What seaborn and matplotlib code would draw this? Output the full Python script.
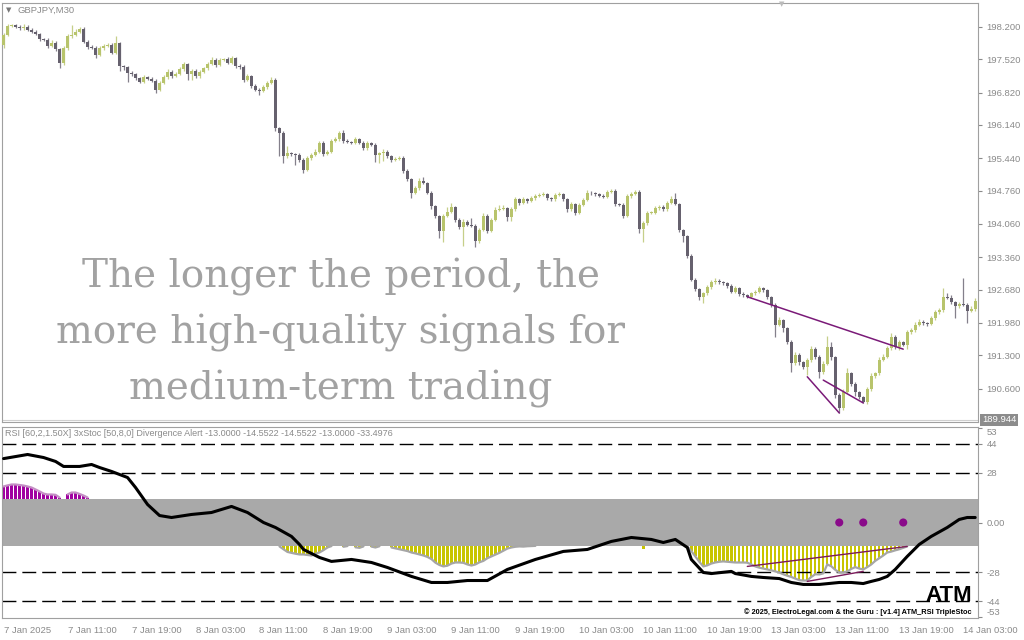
import numpy as np
import pandas as pd
import seaborn as sns
import matplotlib
matplotlib.use("Agg")
import matplotlib.pyplot as plt
import matplotlib.transforms as mtransforms

sns.set_style("white")
plt.rcParams['font.family'] = ['Liberation Sans', 'DejaVu Sans']

# GBPJPY M30 candles (open of each bar = previous close)
first_open = 197.82
closes = [
    198.03, 198.22, 198.23, 198.20, 198.17, 198.20, 198.14, 198.10, 198.05, 197.94,
    197.93, 197.80, 197.87, 197.73, 197.44, 197.75, 198.00, 198.03, 198.10, 198.15,
    197.89, 197.77, 197.76, 197.61, 197.75, 197.80, 197.82, 197.66, 197.86, 197.37,
    197.35, 197.24, 197.21, 197.12, 197.05, 197.14, 197.11, 197.07, 196.88, 197.03,
    197.14, 197.26, 197.17, 197.21, 197.31, 197.42, 197.20, 197.28, 197.16, 197.26,
    197.33, 197.42, 197.51, 197.40, 197.51, 197.52, 197.45, 197.54, 197.38, 197.35,
    197.09, 197.16, 196.96, 196.88, 196.86, 196.93, 197.02, 197.09, 196.07, 195.98,
    195.48, 195.55, 195.53, 195.51, 195.41, 195.20, 195.44, 195.51, 195.58, 195.77,
    195.53, 195.58, 195.81, 195.84, 195.98, 195.81, 195.78, 195.77, 195.84, 195.77,
    195.65, 195.76, 195.72, 195.50, 195.54, 195.58, 195.48, 195.41, 195.43, 195.45,
    195.18, 195.00, 194.72, 194.81, 194.97, 194.92, 194.72, 194.43, 194.22, 193.92,
    194.23, 194.32, 194.41, 194.15, 193.99, 194.11, 194.04, 194.02, 193.71, 193.94,
    194.23, 193.92, 194.15, 194.36, 194.38, 194.39, 194.20, 194.37, 194.58, 194.50,
    194.58, 194.55, 194.60, 194.65, 194.67, 194.69, 194.60, 194.58, 194.67, 194.69,
    194.58, 194.37, 194.48, 194.30, 194.46, 194.57, 194.72, 194.70, 194.68, 194.65,
    194.63, 194.74, 194.76, 194.48, 194.46, 194.23, 194.64, 194.69, 194.74, 193.95,
    194.08, 194.29, 194.30, 194.39, 194.42, 194.37, 194.50, 194.58, 194.48, 193.93,
    193.80, 193.39, 192.89, 192.69, 192.52, 192.60, 192.73, 192.83, 192.87, 192.83,
    192.81, 192.76, 192.64, 192.71, 192.59, 192.56, 192.53, 192.60, 192.64, 192.71,
    192.67, 192.52, 192.36, 191.94, 192.04, 191.87, 191.59, 191.13, 191.31, 191.15,
    191.06, 191.20, 191.43, 191.27, 190.94, 191.12, 191.47, 191.26, 190.47, 190.19,
    190.54, 190.92, 190.70, 190.52, 190.42, 190.33, 190.59, 190.87, 190.92, 191.21,
    191.27, 191.45, 191.69, 191.47, 191.57, 191.52, 191.78, 191.83, 191.94, 192.01,
    191.97, 191.96, 192.08, 192.20, 192.25, 192.52, 192.51, 192.41, 192.34, 192.38,
    192.36, 192.24, 192.27, 192.45]

# wick lengths in hundredths of a yen
wick_up = [
    3, 4, 3, 3, 4, 6, 3, 3, 4, 3,   3, 3, 5, 4, 3, 4, 5, 21, 6, 5,
    4, 3, 4, 3, 4, 4, 3, 4, 15, 3,  3, 3, 3, 3, 3, 4, 3, 3, 3, 4,
    4, 5, 3, 4, 5, 4, 3, 4, 3, 4,   3, 4, 5, 3, 4, 3, 4, 4, 3, 3,
    4, 4, 3, 3, 3, 4, 4, 5, 3, 3,   3, 14, 3, 3, 3, 3, 4, 4, 5, 4,
    3, 4, 4, 5, 4, 6, 3, 3, 4, 3,   3, 4, 3, 3, 4, 5, 3, 3, 4, 3,
    3, 3, 3, 4, 5, 8, 3, 3, 3, 3,   4, 9, 9, 3, 3, 5, 3, 14, 3, 4,
    5, 3, 4, 6, 8, 7, 3, 4, 5, 3,   4, 3, 4, 4, 3, 4, 3, 3, 5, 4,
    3, 3, 4, 3, 4, 4, 5, 3, 3, 3,   3, 4, 4, 3, 3, 3, 5, 4, 4, 3,
    4, 4, 3, 5, 4, 3, 5, 6, 13, 3,  3, 3, 3, 3, 3, 4, 4, 5, 5, 3,
    4, 3, 3, 4, 3, 3, 3, 4, 4, 5,   3, 3, 3, 3, 6, 3, 3, 3, 5, 4,
    3, 4, 7, 4, 3, 6, 23, 10, 3, 3, 5, 11, 4, 3, 3, 3, 5, 5, 4, 6,
    5, 5, 7, 4, 5, 3, 6, 5, 5, 5,   4, 3, 5, 6, 5, 19, 8, 6, 4, 5,
    54, 4, 6, 5]
wick_dn = [
    7, 3, 3, 3, 3, 3, 3, 3, 3, 4,   3, 4, 3, 4, 10, 4, 3, 3, 3, 3,
    3, 4, 3, 6, 3, 3, 3, 4, 3, 10,  5, 20, 4, 3, 4, 3, 3, 3, 7, 3,
    3, 3, 4, 3, 3, 3, 12, 12, 4, 3, 3, 3, 3, 4, 3, 3, 3, 3, 4, 3,
    4, 3, 5, 3, 9, 3, 3, 3, 6, 50,  14, 3, 4, 21, 4, 7, 3, 3, 3, 3,
    4, 3, 3, 3, 3, 4, 3, 3, 3, 4,   3, 3, 3, 13, 16, 16, 3, 4, 3, 3,
    6, 4, 12, 3, 3, 3, 4, 5, 4, 16, 23, 3, 3, 5, 4, 39, 3, 3, 13, 6,
    3, 5, 3, 3, 3, 3, 8, 8, 3, 4,   3, 4, 3, 3, 3, 3, 4, 3, 3, 3,
    3, 5, 4, 6, 3, 3, 3, 3, 4, 3,   3, 3, 3, 4, 3, 5, 3, 3, 3, 8,
    26, 4, 3, 3, 3, 3, 3, 3, 3, 4,  11, 4, 3, 4, 5, 13, 3, 3, 3, 3,
    3, 4, 4, 3, 4, 3, 3, 3, 3, 3,   3, 4, 5, 25, 3, 8, 5, 17, 3, 5,
    4, 18, 3, 5, 12, 4, 3, 5, 6, 11, 4, 3, 4, 8, 4, 4, 6, 3, 4, 3,
    3, 3, 3, 4, 5, 3, 9, 3, 3, 3,   3, 4, 3, 3, 3, 3, 3, 4, 26, 4,
    3, 27, 4, 3]

# histogram of the TripleStoc oscillator, one value per bar
osc = [
    20.2, 20.8, 21.3, 21.3, 21.0, 20.7, 20.2, 19.6, 18.5, 17.4, 16.2, 15.7, 15.7, 15.5, 14.0,
    12.0, 15.7, 16.8, 16.8, 16.0, 15.1, 14.0,
    12.5, 12.0, 11.2, 10.5, 9.8, 8.6, 7.5, 6.1, 4.8, 3.2, 2.0, 1.1, 0.4, -0.5, -1.2,
    -2.0, -3.1, -4.4, -5.0, -5.8, -6.1, -5.5, -4.9, -5.6, -6.3, -7.0, -6.4, -5.8, -6.6,
    -7.5, -8.1, -8.8, -9.6, -9.1, -8.4, -9.0, -9.9, -10.5, -11.2, -10.8, -10.1, -10.9,
    -11.6, -12.0, -12.3, -12.6, -12.9,
    -13.4, -15.0, -16.5, -17.0, -17.5, -17.9, -17.9, -18.2, -18.5, -17.5, -16.8, -15.5,
    -14.0, -13.2,
    -12.6, -12.8, -13.6, -13.2, -12.7, -13.9, -14.2, -13.4, -12.8, -13.5, -14.0, -13.3, -12.9,
    -13.0, -14.0, -14.5, -15.0, -15.5, -16.0, -16.8, -17.3, -17.9, -18.5, -19.3, -20.5,
    -22.5, -23.8, -24.6, -24.2, -23.0, -22.4, -22.4, -22.6, -23.5, -24.1, -23.5, -22.3,
    -21.5, -20.0, -19.0, -18.0, -17.0, -15.8, -14.6, -14.0, -13.6, -13.4, -13.5, -13.3,
    -13.2, -13.1,
    -12.8, -12.4, -13.3, -12.6, -12.1, -11.5, -12.0, -12.6, -13.2, -12.5, -11.8, -10.9,
    -10.2, -9.5, -8.8, -8.0, -7.4, -6.9, -6.2, -5.8, -6.5, -7.8, -10.5, -12.4, -12.0,
    -11.2, -15.0, -11.0, -9.6, -8.4, -7.9, -8.6, -9.5, -10.3, -11.0, -11.8, -12.6,
    -13.4, -16.0, -19.0, -22.0, -24.6, -24.0, -23.0, -22.4, -22.0, -21.8, -22.0, -22.2,
    -22.4, -22.4, -22.4, -22.5, -23.5, -24.6, -25.3, -25.8, -26.3, -26.8, -27.4, -28.0,
    -29.0, -29.8, -30.5, -31.4, -32.3, -32.5, -32.5, -30.5, -29.0, -29.1, -28.5, -23.5,
    -24.5, -26.5, -28.0, -28.0, -27.4, -26.0, -25.0, -25.8, -26.3, -25.0, -23.5, -21.5,
    -20.0, -18.5, -16.8, -16.3, -15.6, -15.0, -14.2, -13.4,
    -12.5, -11.0, -9.2, -7.5, -5.4, -3.1, -1.0, 1.2, 3.5, 5.2, 6.8, 7.9, 8.6, 9.0, 9.4,
    9.1, 8.8]

# RSI line (bar index, value)
line_idx = [0, 6, 10, 13, 15, 19, 22, 24, 27, 31, 33, 36, 39, 42, 47, 52, 57, 61, 65, 68,
            72, 74, 75, 79, 82, 87, 92, 96, 102, 107, 111, 116, 121, 126, 133, 140, 146,
            152, 157, 162, 165, 168, 171, 172, 175, 177, 182, 183, 187, 190, 194, 197,
            200, 204, 209, 212, 215, 217, 219, 221, 223, 226, 229, 232, 236, 239, 241, 243]
line_val = [35.8, 38.1, 36.4, 34.2, 31.4, 31.4, 32.5, 30.8, 28.6, 25.2, 19.6, 10.1, 3.9,
            2.8, 4.5, 5.6, 9.0, 5.6, 0.0, -2.8, -7.8, -12.3, -15.1, -19.6, -21.8, -20.7,
            -22.4, -25.2, -30.2, -33.6, -33.6, -32.5, -32.5, -26.3, -20.7, -16.2, -15.1,
            -10.6, -8.4, -9.5, -11.2, -9.5, -14.0, -20.7, -28.0, -28.6, -27.4, -28.6,
            -30.2, -30.8, -31.4, -33.6, -34.7, -34.7, -33.6, -33.6, -34.2, -33.0, -31.9,
            -30.2, -26.3, -19.0, -12.3, -7.8, -2.8, 1.7, 2.8, 2.8]

dot_idx = [209, 215, 225]
dot_val = [0, 0, 0]

# divergence lines
pdiv_x = [[186, 225], [201, 209], [205, 215]]
pdiv_y = [[192.53, 191.43], [190.85, 190.09], [190.78, 190.30]]
odiv_x = [[186, 226], [201, 215]]
odiv_y = [[-24.6, -13.4], [-33.0, -27.4]]

time_labels = ["7 Jan 2025", "7 Jan 11:00", "7 Jan 19:00", "8 Jan 03:00", "8 Jan 11:00",
               "8 Jan 19:00", "9 Jan 03:00", "9 Jan 11:00", "9 Jan 19:00", "10 Jan 03:00",
               "10 Jan 11:00", "10 Jan 19:00", "13 Jan 03:00", "13 Jan 11:00",
               "13 Jan 19:00", "14 Jan 03:00"]
price_ticks = [198.200, 197.520, 196.820, 196.140, 195.440, 194.760, 194.060,
               193.360, 192.680, 191.980, 191.300, 190.600]
last_price = 189.944
sub_ticks = [53, 44, 28, 0, -28, -44, -53]
sub_tick_labels = ["53", "44", "28", "0.00", "-28", "-44", "-53"]
levels = [44, 28, -28, -44]
band = 13

GREEN = "#b8c46c"
DARK = "#66616e"
GRAY_TXT = "#8a8a8a"
SPINE = "#a0a0a0"

n = len(closes)
df = pd.DataFrame({"i": np.arange(n), "close": closes})
df["open"] = [first_open] + closes[:-1]
df["hi"] = df[["open", "close"]].max(axis=1) + np.array(wick_up) / 100
df["lo"] = df[["open", "close"]].min(axis=1) - np.array(wick_dn) / 100
df["body"] = (df["close"] - df["open"]).abs().clip(lower=0.012)
df["bot"] = df[["open", "close"]].min(axis=1)
df["up"] = df["close"] >= df["open"]

fig = plt.figure(figsize=(10.24, 6.4), dpi=100)
ax = fig.add_axes([2 / 1024, 1 - 422 / 640, 976 / 1024, 419 / 640])
ax2 = fig.add_axes([2 / 1024, 1 - 618 / 640, 976 / 1024, 191 / 640])

# --- price panel
for flag, col in [(True, GREEN), (False, DARK)]:
    d = df[df["up"] == flag]
    ax.vlines(d["i"], d["lo"], d["hi"], color=col, lw=0.9, alpha=0.8, zorder=2)
    ax.bar(d["i"], d["body"], bottom=d["bot"], width=0.72, color=col, linewidth=0, zorder=3)

for xs, ys in zip(pdiv_x, pdiv_y):
    sns.lineplot(x=xs, y=ys, ax=ax, color="#7a1a78", lw=1.1, zorder=4)

ax.axhline(last_price, color="#cfcfcf", lw=0.8, zorder=1)
ax.set_xlim(-0.4, 243.7)
ax.set_ylim(189.90, 198.70)
ax.set_xticks([])
ax.yaxis.tick_right()
ax.set_yticks(price_ticks)
ax.set_yticklabels([f"{p:.3f}" for p in price_ticks])
ax.tick_params(axis="y", labelsize=6.8, colors=GRAY_TXT, length=3, width=0.8, pad=3)
trans = mtransforms.blended_transform_factory(ax.transAxes, ax.transData)
ax.text(1.004, last_price, f"{last_price:.3f}", transform=trans, fontsize=6.8,
        color="white", va="center", ha="left",
        bbox=dict(boxstyle="square,pad=0.18", fc="#8c8c8c", ec="none"))

# overlay caption, one line per baseline
caption = ["The longer the period, the", "more high-quality signals for", "medium-term trading"]
for k, line in enumerate(caption):
    fig.text(341 / 1024, 1 - (287 + 56.5 * k) / 640, line, ha="center", va="baseline",
             fontsize=28, family="DejaVu Serif", color="#a2a2a2", zorder=6)

# --- oscillator panel
ax2.axhspan(-band, band, color="#a9a9a9", lw=0, zorder=1)
osc_a = np.array(osc)
pos = osc_a > band
neg = osc_a < -band
ax2.bar(df["i"][pos], osc_a[pos] - band, bottom=band, width=0.6, color="#a000a0",
        linewidth=0, zorder=2)
ax2.bar(df["i"][neg], osc_a[neg] + band, bottom=-band, width=0.6, color="#c8c400",
        linewidth=0, zorder=2)
ax2.plot(df["i"], np.where(pos, osc_a, np.nan), color="#c58fc5", lw=1.6, zorder=3)
ax2.plot(df["i"], np.where(neg, osc_a, np.nan), color="#a6a6a6", lw=1.6, zorder=3)

for v in levels:
    ax2.axhline(v, color="black", lw=1, dashes=(10, 4.3), zorder=2)

for xs, ys in zip(odiv_x, odiv_y):
    sns.lineplot(x=xs, y=ys, ax=ax2, color="#7a1a5a", lw=1.0, zorder=4)

sns.lineplot(x=line_idx, y=line_val, ax=ax2, color="black", lw=2.2, zorder=5)
sns.scatterplot(x=dot_idx, y=dot_val, ax=ax2, color="#8a0a8a", s=34,
                edgecolor="none", zorder=6)

ax2.set_xlim(-0.4, 243.7)
ax2.set_ylim(-53.5, 53.5)
ax2.yaxis.tick_right()
ax2.set_yticks(sub_ticks)
lbls = ax2.set_yticklabels(sub_tick_labels)
lbls[0].set_va("top")
lbls[-1].set_va("bottom")
ax2.tick_params(axis="y", labelsize=6.8, colors=GRAY_TXT, length=3, width=0.8, pad=3)
ax2.set_xticks(list(range(0, 16 * len(time_labels), 16)))
ax2.set_xticklabels(time_labels, ha="left")
ax2.tick_params(axis="x", labelsize=6.8, colors=GRAY_TXT, length=4, width=0.8, pad=2)
ax2.set_xlabel("")
ax2.set_ylabel("")

for a in (ax, ax2):
    for s in a.spines.values():
        s.set_color(SPINE)
        s.set_linewidth(0.8)

fig.text(6 / 1024, 1 - 10 / 640, "\u25bc", fontsize=5, color="#777777", va="center",
         family="DejaVu Sans")
fig.text(18 / 1024, 1 - 10 / 640, "GBPJPY,M30", fontsize=6.8, color=GRAY_TXT, va="center")
fig.text(782 / 1024, 1 - 4 / 640, "\u25bc", fontsize=5, color="#bbbbbb", va="center",
         ha="center", family="DejaVu Sans")
fig.text(5 / 1024, 1 - 434 / 640,
         "RSI [60,2,1.50X] 3xStoc [50,8,0] Divergence Alert -13.0000 -14.5522 -14.5522 -13.0000 -33.4976",
         fontsize=6.5, color=GRAY_TXT, va="center")
fig.text(972 / 1024, 1 - 601 / 640, "ATM", fontsize=16, weight="bold", color="black",
         ha="right", va="baseline")
fig.text(972 / 1024, 1 - 614 / 640,
         "\u00a9 2025, ElectroLegal.com & the Guru : [v1.4] ATM_RSI TripleStoc",
         fontsize=5.3, weight="bold", color="black", ha="right", va="baseline",
         family=["Liberation Sans Narrow", "Liberation Sans", "DejaVu Sans"])

fig.savefig("out.png", dpi=100)
